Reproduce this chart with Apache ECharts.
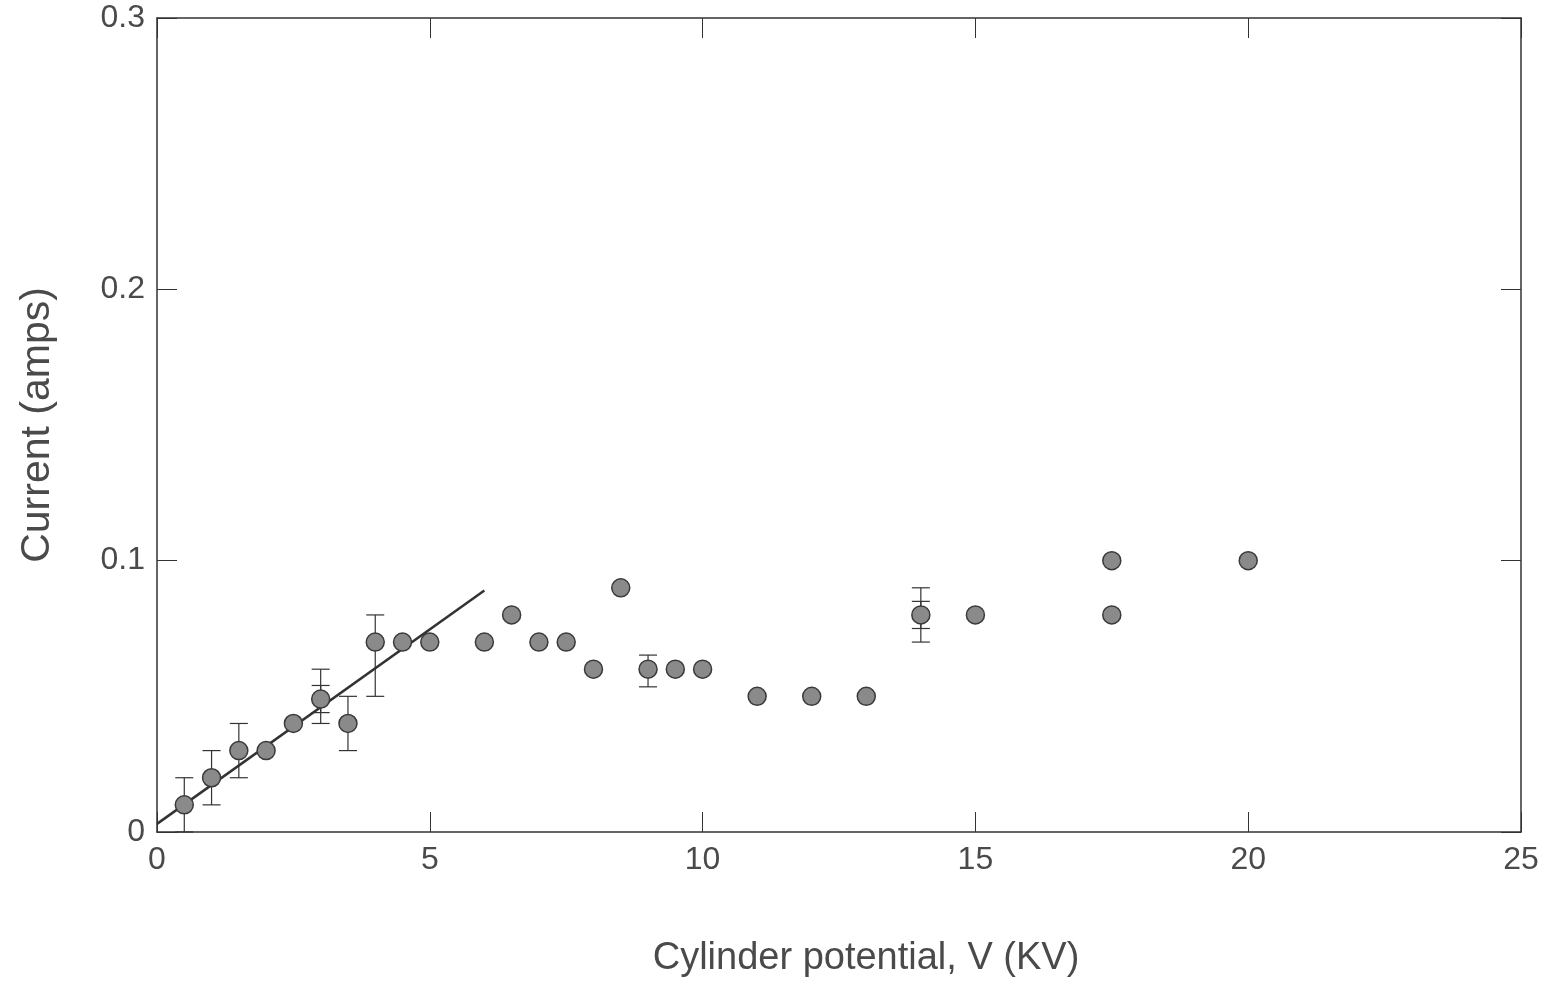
<!DOCTYPE html>
<html><head><meta charset="utf-8">
<script src="https://cdn.jsdelivr.net/npm/echarts@6/dist/echarts.min.js"></script>
<style>html,body{margin:0;padding:0;background:#fff}#c{width:1549px;height:983px}</style>
</head><body><div id="c"></div>
<script>
const xTicks = [0, 5, 10, 15, 20, 25];
const yTickLabels = ['0', '0.1', '0.2', '0.3'];
const pointX = [0.5, 1.0, 1.5, 2.0, 2.5, 3.0, 3.5, 4.0, 4.5, 5.0, 6.0, 6.5, 7.0, 7.5, 8.0, 8.5, 9.0, 9.5, 10, 11, 12, 13, 14, 15, 17.5, 17.5, 20];
const pointY = [0.01, 0.02, 0.03, 0.03, 0.04, 0.049, 0.04, 0.07, 0.07, 0.07, 0.07, 0.08, 0.07, 0.07, 0.06, 0.09, 0.06, 0.06, 0.06, 0.05, 0.05, 0.05, 0.08, 0.08, 0.10, 0.08, 0.10];
const errX = [0.5, 1.0, 1.5, 3.0, 3.0, 3.5, 4.0, 9.0, 14, 14];
const errLow = [0.0, 0.01, 0.02, 0.04, 0.044, 0.03, 0.05, 0.0535, 0.07, 0.075];
const errHigh = [0.02, 0.03, 0.04, 0.06, 0.054, 0.05, 0.08, 0.0652, 0.09, 0.085];
const fitX = [0, 6];
const fitY = [0.003, 0.089];

const chart = echarts.init(document.getElementById('c'));
const font = 'Liberation Sans, Arial, sans-serif';
const txt = '#4a4a4a';
const axisCommon = {
  min: 0, axisLine: {show: true, onZero: false, lineStyle: {color: '#333', width: 1.5}},
  axisTick: {show: true, inside: true, length: 20, lineStyle: {color: '#333', width: 1}},
  splitLine: {show: false}
};
chart.setOption({
  animation: false,
  grid: {left: 157, right: 28, top: 18, bottom: 150, show: false},
  xAxis: [
    Object.assign({}, axisCommon, {
      type: 'value', max: 25, interval: 5, position: 'bottom',
      name: 'Cylinder potential, V (KV)', nameLocation: 'middle', nameGap: 127,
      nameTextStyle: {fontFamily: font, fontSize: 38, color: txt, verticalAlign: 'middle', padding: [0, 0, 0, 54]},
      axisLabel: {fontFamily: font, fontSize: 32, color: txt, margin: 12,
        formatter: v => xTicks.indexOf(v) >= 0 ? String(v) : ''}
    }),
    Object.assign({}, axisCommon, {
      type: 'value', max: 25, interval: 5, position: 'top', axisLabel: {show: false}
    })
  ],
  yAxis: [
    Object.assign({}, axisCommon, {
      type: 'value', max: 0.3, interval: 0.1, position: 'left',
      name: 'Current (amps)', nameLocation: 'middle', nameGap: 119, nameRotate: 90,
      nameTextStyle: {fontFamily: font, fontSize: 41, color: txt, verticalAlign: 'middle'},
      axisLabel: {fontFamily: font, fontSize: 32, color: txt, margin: 12,
        formatter: v => yTickLabels[Math.round(v * 10)]}
    }),
    Object.assign({}, axisCommon, {
      type: 'value', max: 0.3, interval: 0.1, position: 'right', axisLabel: {show: false}
    })
  ],
  series: [
    {
      type: 'line', data: fitX.map((x, i) => [x, fitY[i]]), symbol: 'none',
      lineStyle: {color: '#333', width: 2.5}, z: 2
    },
    {
      type: 'custom', z: 3,
      data: errX.map((x, i) => [x, errLow[i], errHigh[i]]),
      renderItem: function (params, api) {
        const lo = api.coord([api.value(0), api.value(1)]);
        const hi = api.coord([api.value(0), api.value(2)]);
        const hw = 9;
        const st = {stroke: '#333', lineWidth: 1.2};
        return {type: 'group', children: [
          {type: 'line', shape: {x1: lo[0], y1: lo[1], x2: hi[0], y2: hi[1]}, style: st},
          {type: 'line', shape: {x1: lo[0] - hw, y1: lo[1], x2: lo[0] + hw, y2: lo[1]}, style: st},
          {type: 'line', shape: {x1: hi[0] - hw, y1: hi[1], x2: hi[0] + hw, y2: hi[1]}, style: st}
        ]};
      }
    },
    {
      type: 'scatter', z: 4, data: pointX.map((x, i) => [x, pointY[i]]),
      symbol: 'circle', symbolSize: 18,
      itemStyle: {color: '#8a8a8a', borderColor: '#3a3a3a', borderWidth: 1.5, opacity: 1}
    }
  ]
});
</script></body></html>
